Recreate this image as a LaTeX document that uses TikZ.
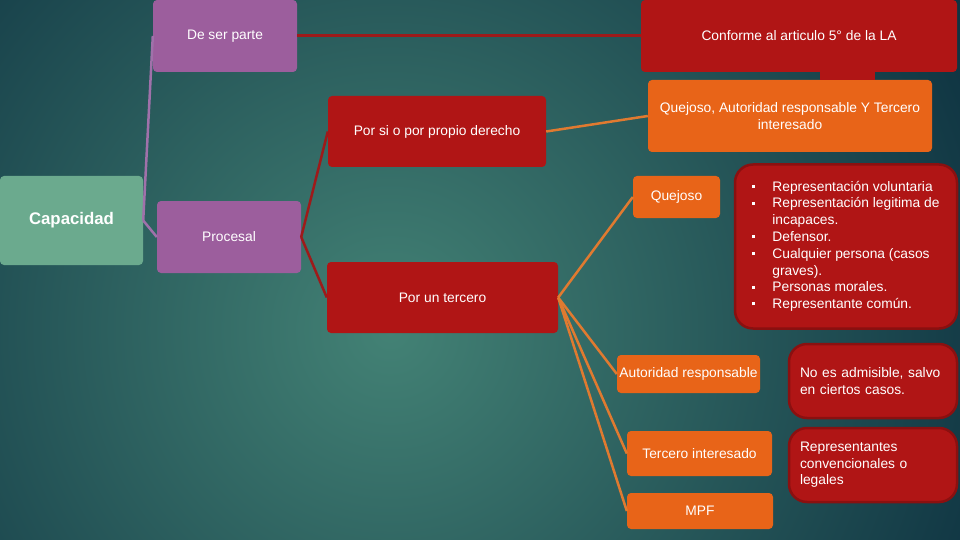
\documentclass[tikz,border=0pt]{standalone}
\usepackage{fontspec}
\setmainfont{Liberation Sans}
\usetikzlibrary{calc}
\definecolor{bgdark}{HTML}{0F3442}
\definecolor{bglight}{HTML}{438275}
\definecolor{purplec}{HTML}{9C5E9D}
\definecolor{redc}{HTML}{B01515}
\definecolor{redline}{HTML}{9E1A1A}
\definecolor{redborder}{HTML}{8A1010}
\definecolor{orangec}{HTML}{E86418}
\definecolor{orangeline}{HTML}{E07A30}
\definecolor{greenc}{HTML}{6BAA8E}
\definecolor{purpleline}{HTML}{A071AA}
\tikzset{
	box/.style={rounded corners=4pt, text=white, font=\fontsize{13.8}{16.5}\selectfont, align=center, inner sep=0pt},
	purplebox/.style={box, fill=purplec},
	redbox/.style={box, fill=redc},
	orangebox/.style={box, fill=orangec},
	notebox/.style={box, fill=redc, draw=redborder, line width=2.5pt, rounded corners=18pt, align=left},
}
\newcommand{\bul}{\raisebox{3.2pt}{\rule{3pt}{3pt}}}

\begin{document}
\begin{tikzpicture}[x=1pt, y=-1pt]
		%%%%% START %%%%%
		\useasboundingbox (0, 0) rectangle (960, 540);
		\begin{scope}
			\clip (0, 0) rectangle (960, 540);
			\fill[bgdark] (0, 0) rectangle (960, 540);
			\shade[inner color=bglight, outer color=bgdark] (390, 330) circle (640);
		\end{scope}
		
		\node[purplebox, minimum width=144, minimum height=72] (ser) at (225, 36) {De ser parte};
		\node[redbox, minimum width=316, minimum height=72] (conf) at (799, 36) {Conforme al articulo 5° de la LA};
		\node[orangebox, minimum width=284, minimum height=72] (quejtr) at (790, 116) {Quejoso, Autoridad responsable Y Tercero\\interesado};
		\fill[redc] ([xshift=21pt]conf.south) rectangle ([xshift=85pt]quejtr.north);
		
		\node[redbox, minimum width=218, minimum height=71] (propio) at (437, 131.5) {Por si o por propio derecho};
		\node[box, fill=greenc, minimum width=143, minimum height=89, font=\fontsize{16.8}{19}\selectfont\bfseries] (cap) at (71.5, 220.5) {Capacidad};
		\node[purplebox, minimum width=144, minimum height=72] (proc) at (229, 237) {Procesal};
		\node[redbox, minimum width=231, minimum height=71] (tercero) at (442.5, 297.5) {Por un tercero};
		
		\node[orangebox, minimum width=87, minimum height=42] (quejoso) at (676.5, 197) {Quejoso};
		\node[notebox, minimum width=222, minimum height=164] (lista) at (846, 246.5) {%
			\begin{tabular}{@{}c@{\hspace{17pt}}l@{}}
				\bul & Representación voluntaria\\[0.3pt]
				\bul & Representación legitima de\\[0.3pt]
				& incapaces.\\[0.3pt]
				\bul & Defensor.\\[0.3pt]
				\bul & Cualquier persona (casos\\[0.3pt]
				& graves).\\[0.3pt]
				\bul & Personas morales.\\[0.3pt]
				\bul & Representante común.
			\end{tabular}};
		
		\node[orangebox, minimum width=143, minimum height=38] (autres) at (688.5, 374) {Autoridad responsable};
		\node[orangebox, minimum width=145, minimum height=45] (terint) at (699.5, 453.5) {Tercero interesado};
		\node[orangebox, minimum width=146, minimum height=36] (mpf) at (700, 511) {MPF};
		\node[notebox, minimum width=168, minimum height=74, text width=146] (noadm) at (873, 381) {No es admisible, salvo\\en ciertos casos.};
		\node[notebox, minimum width=168, minimum height=74, text width=146] (repres) at (873, 465) {Representantes\\convencionales o\\legales};
		
		% connectors
		\draw[purpleline, line width=2.5pt] (cap.east) -- (ser.west);
		\draw[purpleline, line width=2.5pt] (cap.east) -- (proc.west);
		\draw[redline, line width=3pt] (ser.east) -- (conf.west);
		\draw[redline, line width=2.5pt] (proc.east) -- (propio.west);
		\draw[redline, line width=2.5pt] (proc.east) -- (tercero.west);
		\draw[orangeline, line width=2.5pt] (propio.east) -- (quejtr.west);
		\foreach \n in {quejoso, autres, terint, mpf}
			\draw[orangeline, line width=2.5pt] (tercero.east) -- (\n.west);
		%%%%% END %%%%%
	\end{tikzpicture}
\end{document}
